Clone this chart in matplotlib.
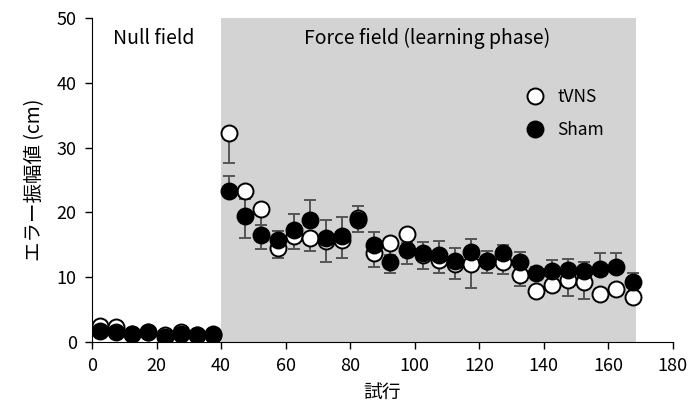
import numpy as np
import matplotlib.pyplot as plt

plt.rcParams['font.family'] = ['Noto Sans CJK JP', 'DejaVu Sans']

# trial bins (centre of each 5-trial block)
trials = np.arange(2.5, 170, 5)

tvns = [2.5, 2.3, 1.2, 1.5, 1.1, 1.5, 1.0, 1.3,
        32.2, 23.3, 20.6, 14.5, 16.3, 16.0, 15.6, 15.7, 19.1, 13.7, 15.2, 16.7, 13.5,
        12.7, 12.0, 12.0, 12.5, 12.3, 10.3, 7.9, 8.8, 9.6, 9.2, 7.4, 8.1, 6.9]
tvns_err = [0.4, 0.4, 0.4, 0.4, 0.4, 0.4, 0.4, 0.4,
            4.5, 7.2, 6.2, 1.5, 1.9, 2.0, 3.2, 2.8, 2.2, 2.1, 4.5, 4.6, 2.2,
            2.0, 2.3, 3.6, 1.9, 1.8, 1.7, 0.8, 0.8, 2.5, 2.6, 0.8, 0.8, 0.8]

sham = [1.7, 1.6, 1.2, 1.5, 0.7, 1.3, 1.0, 1.0,
        23.3, 19.5, 16.5, 15.7, 17.3, 18.8, 16.0, 16.4, 18.9, 15.0, 12.4, 14.2, 13.7,
        13.4, 12.5, 13.9, 12.5, 13.7, 12.4, 10.6, 10.9, 11.1, 10.9, 11.3, 11.5, 9.2]
sham_err = [0.4, 0.4, 0.4, 0.4, 0.4, 0.4, 0.4, 0.4,
            2.3, 2.5, 1.5, 1.4, 2.5, 3.1, 2.8, 2.9, 2.1, 1.9, 1.0, 1.0, 1.7,
            2.2, 2.0, 2.0, 1.5, 1.2, 1.5, 1.0, 1.8, 1.7, 1.5, 2.4, 2.2, 1.4]

zeros = np.zeros(len(trials))

fig = plt.figure(figsize=(6.88, 4.11), dpi=100)
ax = fig.add_axes([0.1337, 0.168, 0.978 - 0.1337, 0.956 - 0.168])

ax.axvspan(40, 168.7, color='#d3d3d3', lw=0, zorder=0)

# tVNS error bars point down, Sham error bars point up
ax.errorbar(trials, tvns, yerr=[tvns_err, zeros], fmt='none', ecolor='#555555',
            elinewidth=1.4, capsize=4, capthick=1.4, zorder=2)
ax.errorbar(trials, sham, yerr=[zeros, sham_err], fmt='none', ecolor='#555555',
            elinewidth=1.4, capsize=4, capthick=1.4, zorder=2)
ax.plot(trials, tvns, 'o', ms=11.5, mfc='white', mec='black', mew=1.4,
        ls='none', label='tVNS', zorder=3)
ax.plot(trials, sham, 'o', ms=11.5, mfc='black', mec='black', mew=1.4,
        ls='none', label='Sham', zorder=4)

ax.set_xlim(0, 180)
ax.set_ylim(0, 50)
ax.set_xticks(np.arange(0, 181, 20))
ax.set_yticks(np.arange(0, 51, 10))
ax.tick_params(direction='out', length=5, width=1, labelsize=13, pad=6)
for s in ['top', 'right']:
    ax.spines[s].set_visible(False)

ax.set_xlabel('試行', fontsize=13.5, labelpad=5)
ax.set_ylabel('エラー振幅値 (cm)', fontsize=14, labelpad=8)

ax.text(6.5, 46.8, 'Null field', fontsize=14, va='center', ha='left')
ax.text(104, 46.8, 'Force field (learning phase)', fontsize=14, va='center', ha='center')

ax.legend(loc='center left', bbox_to_anchor=(0.714, 0.705), frameon=False,
          fontsize=12.5, handletextpad=0.6, labelspacing=0.9, handlelength=1.4)

fig.savefig('out.png', dpi=100)
